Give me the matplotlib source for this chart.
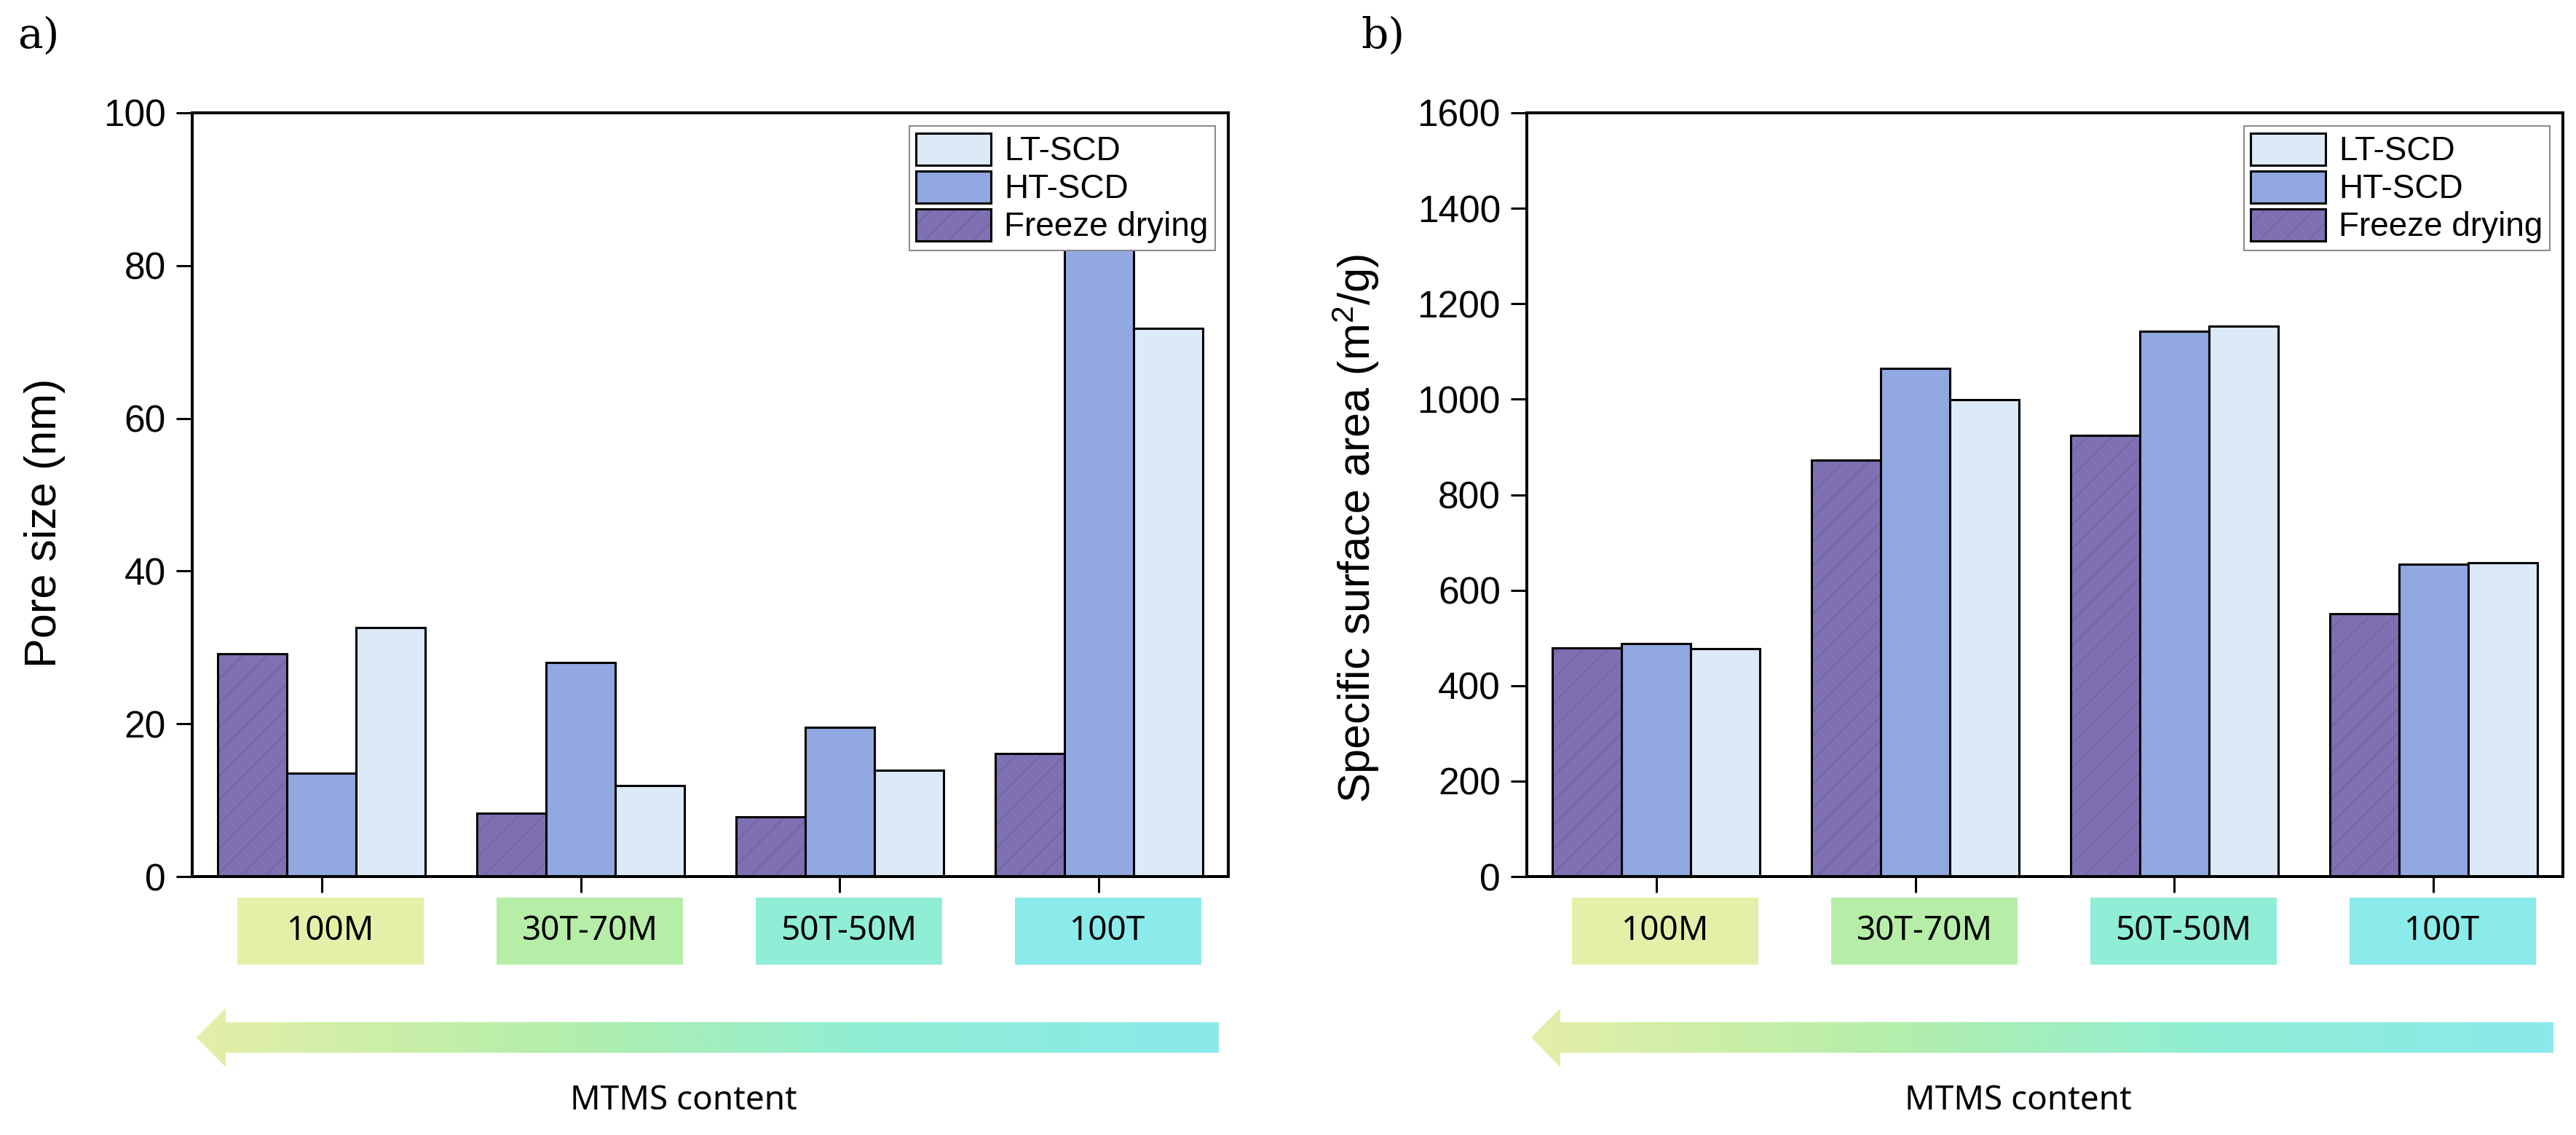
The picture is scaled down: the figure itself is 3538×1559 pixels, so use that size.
import numpy as np
import matplotlib
matplotlib.use("Agg")
import matplotlib.pyplot as plt
from matplotlib.colors import LinearSegmentedColormap
from matplotlib.patches import Polygon, Rectangle
from matplotlib.legend_handler import HandlerTuple

# data
groups = ["100M", "30T-70M", "50T-50M", "100T"]
series = ["Freeze drying", "HT-SCD", "LT-SCD"]

pore_fd = [29.2, 8.3, 7.8, 16.1]
pore_ht = [13.5, 28.0, 19.5, 90.0]   # last bar runs under the legend
pore_lt = [32.6, 11.9, 13.9, 71.8]

area_fd = [479, 872, 924, 551]
area_ht = [488, 1065, 1142, 654]
area_lt = [478, 999, 1153, 657]

bar_colors = ["#7f70b4", "#91a8e0", "#dce9f6"]
hatch_color = "#71679c"
box_colors = ["#e5efa8", "#b6eea8", "#8feed5", "#8beaea"]

plt.rcParams['font.family'] = ['Liberation Sans', 'DejaVu Sans']
plt.rcParams['mathtext.default'] = 'regular'
plt.rcParams['hatch.linewidth'] = 1.3

W, H = 3538, 1559
fig = plt.figure(figsize=(W / 100, H / 100), dpi=100)

# overlay in pixel units for the gradient arrows
over = fig.add_axes([0, 0, 1, 1])
over.set_zorder(-1)
grad_cmap = LinearSegmentedColormap.from_list("mtms", box_colors)


def draw_arrow(left):
    x_tip = left + 6
    x_base = left + 46
    x_end = left + 1410
    pts = [(x_tip, 1425), (x_base, 1385), (x_base, 1404), (x_end, 1404),
           (x_end, 1446), (x_base, 1446), (x_base, 1466)]
    poly = Polygon(pts, closed=True, transform=over.transData)
    grad = np.linspace(0, 1, 512).reshape(1, -1)
    im = over.imshow(grad, cmap=grad_cmap, aspect='auto',
                     extent=(x_tip, x_end, 1466, 1385))
    im.set_clip_path(poly)


def panel(ax, fd, ht, lt, ymax, ystep, ylabel, lab_x, lab_y):
    x = np.arange(len(groups))
    w = 0.267
    fd_fill = ax.bar(x - w, fd, w, color=bar_colors[0], edgecolor=hatch_color,
                     hatch='/', linewidth=0)
    fd_edge = ax.bar(x - w, fd, w, fill=False, edgecolor='black', linewidth=2.2)
    ht_bars = ax.bar(x, ht, w, color=bar_colors[1], edgecolor='black', linewidth=2.2)
    lt_bars = ax.bar(x + w, lt, w, color=bar_colors[2], edgecolor='black', linewidth=2.2)

    ax.set_xlim(-0.5, 3.5)
    ax.set_ylim(0, ymax)
    ax.set_yticks(np.arange(0, ymax + 1, ystep))
    ax.set_xticks(x)
    ax.set_xticklabels([])
    ax.tick_params(axis='both', direction='out', length=16, width=2.2)
    ax.tick_params(axis='y', labelsize=37, pad=10)
    for s in ax.spines.values():
        s.set_linewidth(2.9)

    ax.set_ylabel(ylabel, fontsize=44)
    ax.yaxis.set_label_coords(lab_x, lab_y)

    leg = ax.legend([lt_bars, ht_bars, (fd_fill, fd_edge)], series[::-1],
                    handler_map={tuple: HandlerTuple(ndivide=1)},
                    loc='upper right', fontsize=33, fancybox=False, framealpha=1,
                    handlelength=2.25, handleheight=1.1, handletextpad=0.4,
                    labelspacing=0.1, borderpad=0.2, borderaxespad=0.4)
    leg.get_frame().set_edgecolor('#8c8c8c')
    leg.get_frame().set_linewidth(1.5)

    # coloured category boxes under the axis
    trans = ax.get_xaxis_transform()
    for i, (g, c) in enumerate(zip(groups, box_colors)):
        ax.add_patch(Rectangle((i - 0.325, -0.1153), 0.72, 0.0877, transform=trans,
                               facecolor=c, edgecolor='none', clip_on=False))
        ax.text(i + 0.035, -0.0714, g, transform=trans, ha='center', va='center',
                fontsize=33, family='Noto Sans')

    ax.text(0.474, -0.2936, "MTMS content", transform=ax.transAxes,
            ha='center', va='center', fontsize=33, family='Noto Sans')


ax_a = fig.add_axes([264 / W, (H - 1204) / H, 1423 / W, 1049 / H])
ax_b = fig.add_axes([2097 / W, (H - 1204) / H, 1423 / W, 1049 / H])

panel(ax_a, pore_fd, pore_ht, pore_lt, 100, 20, "Pore size (nm)", -0.122, 0.463)
panel(ax_b, area_fd, area_ht, area_lt, 1600, 200,
      "Specific surface area (m$^2$/g)", -0.1405, 0.456)

draw_arrow(264)
draw_arrow(2097)
over.set_xlim(0, W)
over.set_ylim(H, 0)
over.axis('off')

fig.text(24 / W, 1 - 22 / H, "a)", va='top', ha='left', fontsize=42, family='DejaVu Serif')
fig.text(1869 / W, 1 - 22 / H, "b)", va='top', ha='left', fontsize=42, family='DejaVu Serif')

fig.savefig("out.png", dpi=100)
